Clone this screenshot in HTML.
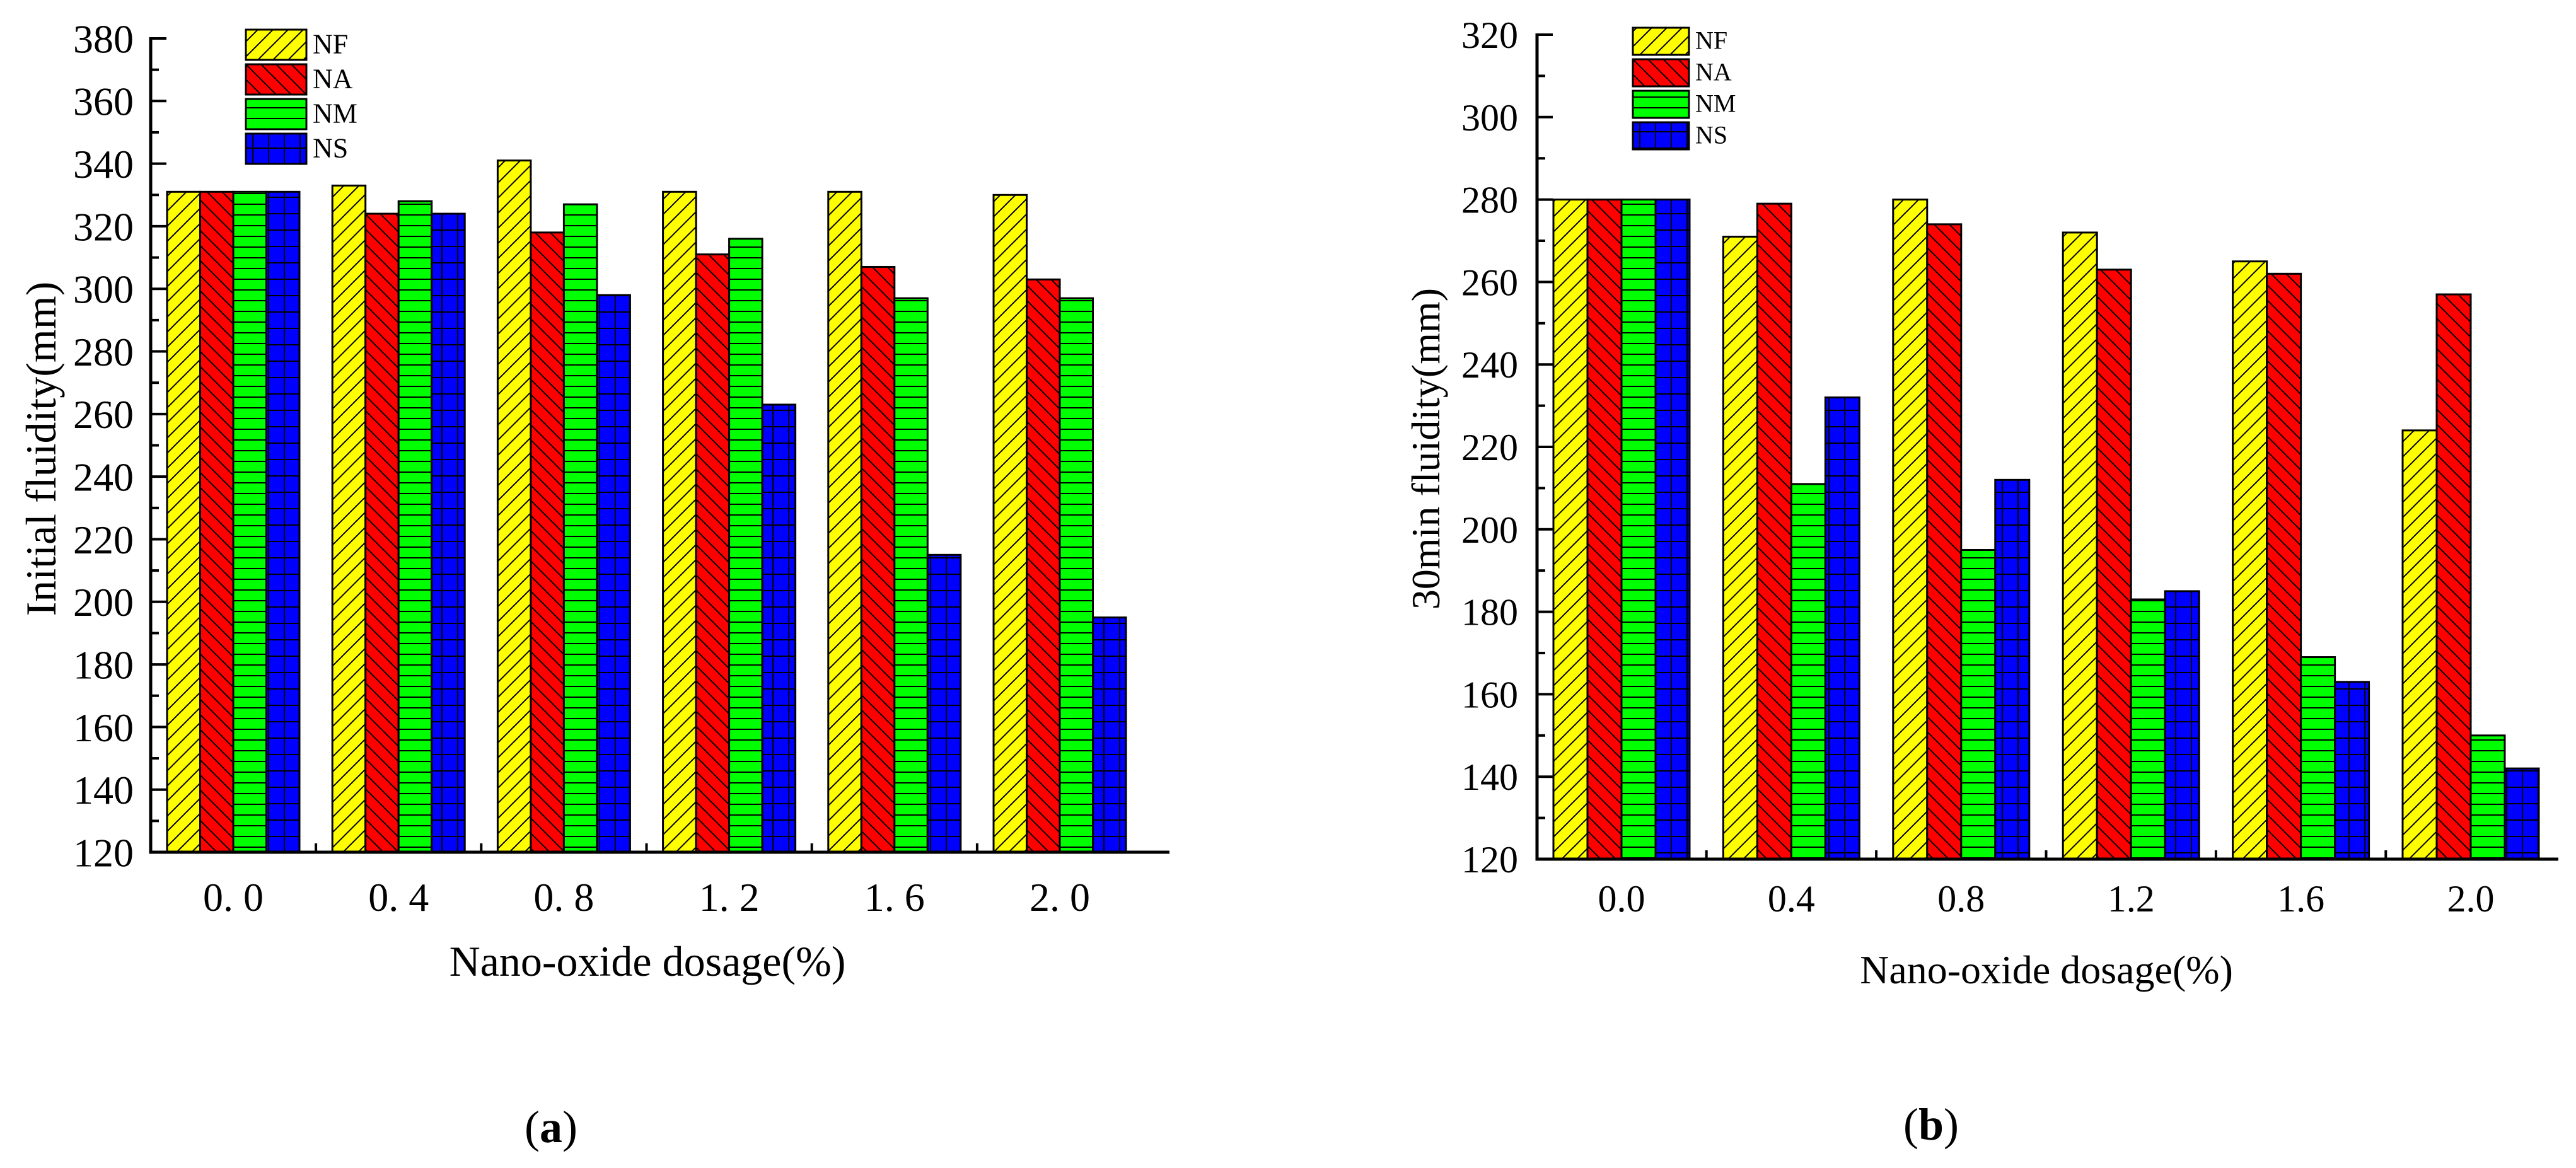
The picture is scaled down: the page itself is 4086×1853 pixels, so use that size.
<!DOCTYPE html>
<html><head><meta charset="utf-8"><style>
html,body{margin:0;padding:0;background:#fff;}
svg{display:block;}
text{font-family:"Liberation Serif","Noto Serif CJK SC",serif;fill:#000;}
</style></head><body>
<svg id="fig" width="4086" height="1853" viewBox="0 0 4086 1853" xmlns="http://www.w3.org/2000/svg">
<defs>
<pattern id="pNF" patternUnits="userSpaceOnUse" width="24" height="24"><rect width="24" height="24" fill="#ffff00"/><path d="M-6,30 L30,-6 M-6,6 L6,-6 M18,30 L30,18" stroke="#000" stroke-width="2"/></pattern>
<pattern id="pNA" patternUnits="userSpaceOnUse" width="24" height="24"><rect width="24" height="24" fill="#ff0000"/><path d="M-6,-6 L30,30 M18,-6 L30,6 M-6,18 L6,30" stroke="#000" stroke-width="2"/></pattern>
<pattern id="pNM" patternUnits="userSpaceOnUse" width="24" height="17"><rect width="24" height="17" fill="#00ff00"/><path d="M0,1 L24,1" stroke="#000" stroke-width="2"/></pattern>
<pattern id="pNS" patternUnits="userSpaceOnUse" width="25" height="26"><rect width="25" height="26" fill="#0000ff"/><path d="M0,1 L25,1 M1,0 L1,26" stroke="#000" stroke-width="2"/></pattern>
</defs>
<g id="chartA"></g>
<g id="chartB"></g>
</svg>
<script>
const categoriesA = ["0. 0","0. 4","0. 8","1. 2","1. 6","2. 0"];
const nfA = [331,333,341,331,331,330];
const naA = [331,324,318,311,307,303];
const nmA = [331,328,327,316,297,297];
const nsA = [331,324,298,263,215,195];
const yTicksA = [120,140,160,180,200,220,240,260,280,300,320,340,360,380];

const categoriesB = ["0.0","0.4","0.8","1.2","1.6","2.0"];
const nfB = [280,271,280,272,265,224];
const naB = [280,279,274,263,262,257];
const nmB = [280,211,195,183,169,150];
const nsB = [280,232,212,185,163,142];
const yTicksB = [120,140,160,180,200,220,240,260,280,300,320];

const seriesNames = ["NF","NA","NM","NS"];
const NS_ = "http://www.w3.org/2000/svg";
function mk(tag, attrs, parent){const e=document.createElementNS(NS_,tag);for(const k in attrs)e.setAttribute(k,attrs[k]);parent.appendChild(e);return e;}

function drawChart(g, L, cats, series, yTicks, yLabel, panel){
  const yMin=yTicks[0], yMax=yTicks[yTicks.length-1];
  const y = v => L.y0 + (v-yMin)/(yMax-yMin)*(L.y1-L.y0);
  const step=(L.c5-L.c0)/(cats.length-1);
  const xc = i => L.c0 + i*step;
  const fills=["url(#pNF)","url(#pNA)","url(#pNM)","url(#pNS)"];
  series.forEach((vals,s)=>{
    vals.forEach((v,i)=>{
      const x = xc(i) - 2*L.bw + s*L.bw;
      const r = mk("rect",{x:x,y:y(v),width:L.bw,height:L.y0-y(v),fill:fills[s],stroke:"#000","stroke-width":3},g);
      
      
    });
  });
  const ax = mk("path",{d:`M${L.ax},${L.y1-2} L${L.ax},${L.y0} L${L.xe},${L.y0}`,fill:"none",stroke:"#000","stroke-width":5},g);
  
  
  for(let v=yMin; v<=yMax; v+=10){
    const major = (v-yMin)%20===0;
    mk("line",{x1:L.ax,x2:L.ax+(major?25:13),y1:y(v),y2:y(v),stroke:"#000","stroke-width":4},g);
  }
  yTicks.forEach(v=>{
    const t=mk("text",{x:L.lblR,y:y(v)+L.yfs*0.35,"text-anchor":"end","font-size":L.yfs},g);
    t.textContent=v;
    
    
  });
  for(let i=0;i<cats.length-1;i++){
    const xb=(xc(i)+xc(i+1))/2;
    mk("line",{x1:xb,x2:xb,y1:L.y0,y2:L.y0-14,stroke:"#000","stroke-width":4},g);
  }
  cats.forEach((c,i)=>{
    const t=mk("text",{x:xc(i),y:L.xly,"text-anchor":"middle","font-size":L.xfs},g);
    t.textContent=c;
    
    
  });
  const xt=mk("text",{x:L.xtx,y:L.xty,"text-anchor":"middle","font-size":L.tfs},g);
  xt.textContent="Nano-oxide dosage(%)";
  
  
  const yt=mk("text",{x:0,y:0,"text-anchor":"middle","font-size":L.tfs,transform:`translate(${L.ytx},${L.yty}) rotate(-90)`},g);
  yt.textContent=yLabel;
  
  
  const pt=mk("text",{x:L.px,y:L.py,"text-anchor":"middle","font-size":72},g);
  pt.innerHTML='(<tspan font-weight="bold">'+panel+'</tspan>)';
  
  
  seriesNames.forEach((n,s)=>{
    const ly=L.lg.y+s*L.lg.dy;
    const r=mk("rect",{x:L.lg.x,y:ly,width:L.lg.w,height:L.lg.h,fill:fills[s],stroke:"#000","stroke-width":3},g);
    
    
    const t=mk("text",{x:L.lg.x+L.lg.w+10,y:ly+L.lg.h*0.78,"font-size":L.lg.fs},g);
    t.textContent=n;
    
    
  });
}

drawChart(document.getElementById('chartA'),
  {ax:239,xe:1855,y0:1352,y1:61,c0:370,c5:1681,bw:52.5,lblR:212,yfs:64,xfs:64,xly:1445,tfs:68,xtx:1027,xty:1548,ytx:88,yty:712,px:874,py:1812,
   lg:{x:390,y:47,dy:55,w:96,h:48,fs:44}},
  categoriesA,[nfA,naA,nmA,nsA],yTicksA,"Initial fluidity(mm)","a");

drawChart(document.getElementById('chartB'),
  {ax:2438,xe:4058,y0:1363,y1:55,c0:2572,c5:3919,bw:54,lblR:2408,yfs:60,xfs:60,xly:1446,tfs:64,xtx:3246,xty:1560,ytx:2283,yty:712,px:3063,py:1808,
   lg:{x:2590,y:44,dy:50,w:89,h:43,fs:40}},
  categoriesB,[nfB,naB,nmB,nsB],yTicksB,"30min fluidity(mm)","b");
</script>
</body></html>
